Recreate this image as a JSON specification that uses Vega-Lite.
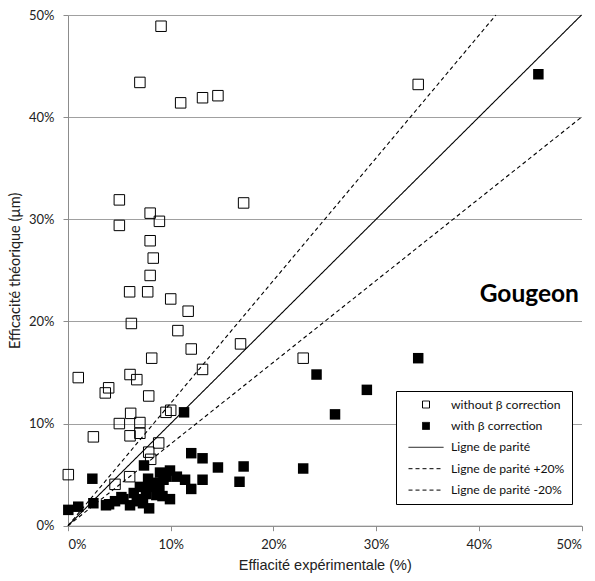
{
  "$schema": "https://vega.github.io/schema/vega-lite/v6.json",
  "autosize": "none",
  "width": 513.5,
  "height": 510.7,
  "padding": {"left": 68, "top": 15, "right": 13.5, "bottom": 55.3},
  "background": "white",
  "config": {"view": {"stroke": null}},
  "datasets": {
    "pts": [
      {"x": 9.06, "y": 48.9, "series": "without β correction"},
      {"x": 7.0, "y": 43.4, "series": "without β correction"},
      {"x": 10.97, "y": 41.4, "series": "without β correction"},
      {"x": 13.1, "y": 41.9, "series": "without β correction"},
      {"x": 14.6, "y": 42.1, "series": "without β correction"},
      {"x": 34.1, "y": 43.2, "series": "without β correction"},
      {"x": 5.0, "y": 31.9, "series": "without β correction"},
      {"x": 5.0, "y": 29.4, "series": "without β correction"},
      {"x": 8.0, "y": 30.6, "series": "without β correction"},
      {"x": 8.9, "y": 29.8, "series": "without β correction"},
      {"x": 17.1, "y": 31.6, "series": "without β correction"},
      {"x": 8.0, "y": 27.9, "series": "without β correction"},
      {"x": 8.3, "y": 26.2, "series": "without β correction"},
      {"x": 8.0, "y": 24.5, "series": "without β correction"},
      {"x": 6.0, "y": 22.9, "series": "without β correction"},
      {"x": 7.76, "y": 22.9, "series": "without β correction"},
      {"x": 10.0, "y": 22.2, "series": "without β correction"},
      {"x": 11.7, "y": 21.0, "series": "without β correction"},
      {"x": 6.17, "y": 19.8, "series": "without β correction"},
      {"x": 10.7, "y": 19.1, "series": "without β correction"},
      {"x": 12.0, "y": 17.3, "series": "without β correction"},
      {"x": 16.8, "y": 17.8, "series": "without β correction"},
      {"x": 8.15, "y": 16.4, "series": "without β correction"},
      {"x": 22.9, "y": 16.4, "series": "without β correction"},
      {"x": 1.0, "y": 14.5, "series": "without β correction"},
      {"x": 6.04, "y": 14.8, "series": "without β correction"},
      {"x": 6.7, "y": 14.3, "series": "without β correction"},
      {"x": 13.1, "y": 15.3, "series": "without β correction"},
      {"x": 3.96, "y": 13.5, "series": "without β correction"},
      {"x": 3.63, "y": 13.0, "series": "without β correction"},
      {"x": 7.86, "y": 12.7, "series": "without β correction"},
      {"x": 9.54, "y": 11.1, "series": "without β correction"},
      {"x": 10.0, "y": 11.3, "series": "without β correction"},
      {"x": 6.1, "y": 11.0, "series": "without β correction"},
      {"x": 5.0, "y": 10.0, "series": "without β correction"},
      {"x": 7.0, "y": 10.1, "series": "without β correction"},
      {"x": 7.0, "y": 9.05, "series": "without β correction"},
      {"x": 6.04, "y": 8.8, "series": "without β correction"},
      {"x": 2.47, "y": 8.7, "series": "without β correction"},
      {"x": 8.83, "y": 8.1, "series": "without β correction"},
      {"x": 7.86, "y": 7.2, "series": "without β correction"},
      {"x": 8.05, "y": 6.5, "series": "without β correction"},
      {"x": 0.03, "y": 5.0, "series": "without β correction"},
      {"x": 6.0, "y": 4.8, "series": "without β correction"},
      {"x": 4.58, "y": 4.05, "series": "without β correction"},
      {"x": 45.8, "y": 44.2, "series": "with β correction"},
      {"x": 34.1, "y": 16.4, "series": "with β correction"},
      {"x": 24.2, "y": 14.8, "series": "with β correction"},
      {"x": 29.1, "y": 13.3, "series": "with β correction"},
      {"x": 26.0, "y": 10.9, "series": "with β correction"},
      {"x": 22.9, "y": 5.6, "series": "with β correction"},
      {"x": 11.3, "y": 11.1, "series": "with β correction"},
      {"x": 12.0, "y": 7.1, "series": "with β correction"},
      {"x": 13.1, "y": 6.6, "series": "with β correction"},
      {"x": 14.6, "y": 5.7, "series": "with β correction"},
      {"x": 17.1, "y": 5.8, "series": "with β correction"},
      {"x": 16.7, "y": 4.3, "series": "with β correction"},
      {"x": 13.1, "y": 4.5, "series": "with β correction"},
      {"x": 7.4, "y": 5.9, "series": "with β correction"},
      {"x": 2.37, "y": 4.6, "series": "with β correction"},
      {"x": 12.0, "y": 3.6, "series": "with β correction"},
      {"x": 0.03, "y": 1.55, "series": "with β correction"},
      {"x": 1.0, "y": 1.86, "series": "with β correction"},
      {"x": 2.47, "y": 2.2, "series": "with β correction"},
      {"x": 3.7, "y": 2.0, "series": "with β correction"},
      {"x": 4.58, "y": 2.4, "series": "with β correction"},
      {"x": 5.4, "y": 2.6, "series": "with β correction"},
      {"x": 6.04, "y": 2.0, "series": "with β correction"},
      {"x": 6.7, "y": 2.4, "series": "with β correction"},
      {"x": 7.0, "y": 3.8, "series": "with β correction"},
      {"x": 7.0, "y": 2.6, "series": "with β correction"},
      {"x": 7.6, "y": 3.1, "series": "with β correction"},
      {"x": 7.8, "y": 4.6, "series": "with β correction"},
      {"x": 7.9, "y": 1.7, "series": "with β correction"},
      {"x": 8.6, "y": 3.0, "series": "with β correction"},
      {"x": 8.9, "y": 3.6, "series": "with β correction"},
      {"x": 8.96, "y": 5.2, "series": "with β correction"},
      {"x": 9.2, "y": 2.9, "series": "with β correction"},
      {"x": 9.6, "y": 4.8, "series": "with β correction"},
      {"x": 9.93, "y": 5.4, "series": "with β correction"},
      {"x": 9.93, "y": 2.6, "series": "with β correction"},
      {"x": 10.6, "y": 4.8, "series": "with β correction"},
      {"x": 11.4, "y": 4.5, "series": "with β correction"},
      {"x": 8.0, "y": 3.8, "series": "with β correction"},
      {"x": 9.3, "y": 4.5, "series": "with β correction"},
      {"x": 5.2, "y": 2.8, "series": "with β correction"},
      {"x": 4.0, "y": 2.1, "series": "with β correction"},
      {"x": 8.6, "y": 4.2, "series": "with β correction"},
      {"x": 6.4, "y": 3.2, "series": "with β correction"},
      {"x": 7.3, "y": 2.2, "series": "with β correction"}
    ],
    "lines": [
      {"x": 0, "y": 0, "series": "Ligne de parité"},
      {"x": 50, "y": 50, "series": "Ligne de parité"},
      {"x": 0, "y": 0, "series": "Ligne de parité +20%"},
      {"x": 41.667, "y": 50, "series": "Ligne de parité +20%"},
      {"x": 0, "y": 0, "series": "Ligne de parité -20%"},
      {"x": 50, "y": 40, "series": "Ligne de parité -20%"}
    ],
    "note": [
      {"x": 49.75, "y": 22.6, "label": "Gougeon"}
    ]
  },
  "encoding": {
    "x": {
      "field": "x", "type": "quantitative",
      "scale": {"domain": [0, 50], "nice": false},
      "axis": {
        "values": [0, 10, 20, 30, 40, 50],
        "labelExpr": "datum.value + '%'",
        "grid": false,
        "domainColor": "#8c8c8c", "tickColor": "#8c8c8c", "tickSize": 5,
        "labelFont": "Lato", "labelFontSize": 13, "labelColor": "#222222", "labelPadding": 8,
        "title": "Effiacité expérimentale (%)",
        "titleFont": "Liberation Sans", "titleFontSize": 14.5, "titleFontWeight": "normal", "titleColor": "#222222", "titlePadding": 7
      }
    },
    "y": {
      "field": "y", "type": "quantitative",
      "scale": {"domain": [0, 50], "nice": false},
      "axis": {
        "values": [0, 10, 20, 30, 40, 50],
        "labelExpr": "datum.value + '%'",
        "grid": true, "gridColor": "#a0a0a0",
        "domainColor": "#8c8c8c", "tickColor": "#8c8c8c", "tickSize": 5,
        "labelFont": "Lato", "labelFontSize": 13, "labelColor": "#222222", "labelPadding": 9,
        "title": "Efficacité théorique (µm)",
        "titleFont": "Lato", "titleFontSize": 14.5, "titleFontWeight": "normal", "titleColor": "#222222", "titlePadding": 6
      }
    }
  },
  "layer": [
    {
      "data": {"name": "lines"},
      "mark": {"type": "line", "strokeWidth": 1.1},
      "encoding": {
        "color": {
          "field": "series", "type": "nominal",
          "scale": {
            "domain": ["without β correction", "with β correction", "Ligne de parité", "Ligne de parité +20%", "Ligne de parité -20%"],
            "range": ["black", "black", "black", "black", "black"]
          },
          "legend": {
            "orient": "none", "legendX": 328, "legendY": 376,
            "title": null,
            "strokeColor": "black", "fillColor": "white",
            "padding": 7, "symbolOffset": 5,
            "symbolSize": 1225, "symbolStrokeWidth": 1,
            "clipHeight": 13,
            "rowPadding": 8.4, "labelOffset": 7,
            "labelFont": "Lato", "labelFontSize": 12.2, "labelColor": "#111111", "labelLimit": 300,
            "encode": {
              "symbols": {
                "update": {
                  "shape": {"signal": "indexof(['without β correction','with β correction'], datum.value) >= 0 ? 'square' : 'stroke'"},
                  "size": {"signal": "indexof(['without β correction','with β correction'], datum.value) >= 0 ? 49 : 1225"},
                  "fill": {"signal": "datum.value === 'with β correction' ? 'black' : 'white'"},
                  "fillOpacity": {"signal": "datum.value === 'with β correction' ? 1 : 0"},
                  "stroke": {"value": "black"},
                  "strokeWidth": {"value": 1},
                  "opacity": {"value": 1},
                  "strokeDash": {"signal": "(datum.value === 'Ligne de parité +20%' || datum.value === 'Ligne de parité -20%') ? [4,3] : [1,0]"}
                }
              }
            }
          }
        },
        "strokeDash": {
          "field": "series", "type": "nominal",
          "scale": {
            "domain": ["Ligne de parité", "Ligne de parité +20%", "Ligne de parité -20%"],
            "range": [[1, 0], [4, 3], [4, 3]]
          },
          "legend": null
        }
      }
    },
    {
      "data": {"name": "pts"},
      "transform": [{"filter": "datum.series === 'without β correction'"}],
      "mark": {"type": "point", "shape": "square", "filled": false, "size": 110, "strokeWidth": 1, "opacity": 1},
      "encoding": {
        "color": {"field": "series", "type": "nominal"}
      }
    },
    {
      "data": {"name": "pts"},
      "transform": [{"filter": "datum.series === 'with β correction'"}],
      "mark": {"type": "point", "shape": "square", "filled": true, "size": 110, "opacity": 1},
      "encoding": {
        "color": {"field": "series", "type": "nominal"}
      }
    },
    {
      "data": {"name": "note"},
      "mark": {"type": "text", "align": "right", "baseline": "middle", "font": "Lato", "fontWeight": "bold", "fontSize": 24.5, "fill": "black"},
      "encoding": {
        "text": {"field": "label"}
      }
    }
  ]
}
